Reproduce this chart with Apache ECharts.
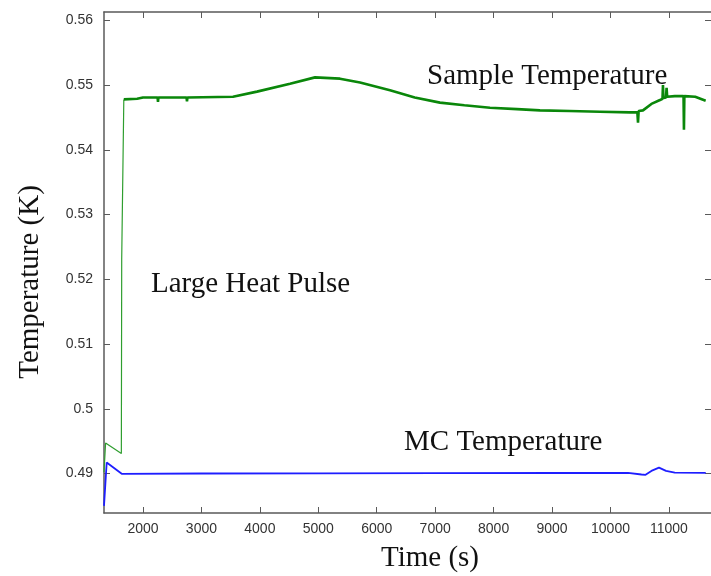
<!DOCTYPE html>
<html>
<head>
<meta charset="utf-8">
<script src="https://cdn.jsdelivr.net/npm/echarts@6/dist/echarts.min.js"></script>
<style>
  html, body { margin: 0; padding: 0; background: #fff; }
  #chart { width: 711px; height: 576px; }
</style>
</head>
<body>
<div id="chart"></div>
<script>
// Sample (green) temperature trace: time in s, temperature in K
const sampleTime = [1333, 1360, 1630, 1636, 1668, 1672, 1900, 2000, 2250, 2257, 2264, 2745, 2753, 2761,
  3540, 3951, 4516, 4944, 5371, 5714, 6227, 6650, 7082, 7500, 7938, 8400, 8794, 9300, 9820,
  10334, 10460, 10471, 10482, 10556, 10700, 10847, 10890, 10898, 10906, 10950, 10960, 10970,
  11100, 11250, 11257, 11264, 11450, 11629];
const sampleTemp = [0.4902, 0.4947, 0.4931, 0.5231, 0.5232, 0.5478, 0.5479, 0.5481, 0.5481, 0.5474, 0.5481, 0.5481, 0.5475, 0.5481,
  0.5482, 0.5490, 0.5502, 0.5512, 0.5510, 0.5504, 0.5492, 0.5481, 0.5473, 0.5469, 0.5465, 0.5463, 0.5461, 0.5460, 0.5459,
  0.5458, 0.5458, 0.5442, 0.5460, 0.5461, 0.5471, 0.5477, 0.5479, 0.5500, 0.5480, 0.5481, 0.5496, 0.5482,
  0.5483, 0.5483, 0.5431, 0.5483, 0.5482, 0.5476];
// index where the heat pulse ends and the plateau begins
const pulseEnd = 5;

// Mixing chamber (blue) temperature trace
const mcTime = [1333, 1340, 1379, 1636, 3000, 5000, 7000, 9000, 10300, 10530, 10600, 10700, 10830, 10950, 11100, 11630];
const mcTemp = [0.4850, 0.4853, 0.4917, 0.48995, 0.4900, 0.49003, 0.49005, 0.49008, 0.4901, 0.48985, 0.4898, 0.4904, 0.4909, 0.4904, 0.49015, 0.4901];

// Axis ranges and tick positions
const xRange = [1333, 11720];
const yRange = [0.4839, 0.5613];
const xTicks = [2000, 3000, 4000, 5000, 6000, 7000, 8000, 9000, 10000, 11000];
const yTicks = [0.49, 0.50, 0.51, 0.52, 0.53, 0.54, 0.55, 0.56];

const zip = (a, b) => a.map((v, i) => [v, b[i]]);
const sampleData = zip(sampleTime, sampleTemp);
const pulseData = sampleData.slice(0, pulseEnd + 1);
const plateauData = sampleData.slice(pulseEnd);

const axisColor = '#5a5a5a';
const labelColor = '#333';
const serif = '"Liberation Serif", "DejaVu Serif", serif';
const sans = '"Liberation Sans", Arial, sans-serif';

function fmtY(v) { return String(+v.toFixed(2)); }
function fmtX(v) { return String(Math.round(v)); }

function tickStyle(values) {
  return { show: true, inside: true, length: 6, customValues: values, lineStyle: { color: axisColor, width: 1 } };
}

const chart = echarts.init(document.getElementById('chart'), null, { renderer: 'canvas' });
chart.setOption({
  animation: false,
  backgroundColor: '#ffffff',
  grid: { left: 104, top: 12, right: 0, bottom: 63 },
  xAxis: [
    {
      type: 'value', position: 'bottom', min: xRange[0], max: xRange[1],
      axisLine: { show: true, lineStyle: { color: axisColor, width: 1.5 } },
      splitLine: { show: false },
      axisTick: tickStyle(xTicks),
      axisLabel: { show: true, customValues: xTicks, formatter: fmtX, margin: 9, color: labelColor, fontSize: 14, fontFamily: sans }
    },
    {
      type: 'value', position: 'top', min: xRange[0], max: xRange[1],
      axisLine: { show: true, lineStyle: { color: axisColor, width: 1.5 } },
      splitLine: { show: false },
      axisTick: tickStyle(xTicks),
      axisLabel: { show: false }
    }
  ],
  yAxis: [
    {
      type: 'value', position: 'left', min: yRange[0], max: yRange[1],
      axisLine: { show: true, lineStyle: { color: axisColor, width: 1.5 } },
      splitLine: { show: false },
      axisTick: tickStyle(yTicks),
      axisLabel: { show: true, customValues: yTicks, formatter: fmtY, margin: 11, color: labelColor, fontSize: 14, fontFamily: sans }
    },
    {
      type: 'value', position: 'right', min: yRange[0], max: yRange[1],
      axisLine: { show: false },
      splitLine: { show: false },
      axisTick: tickStyle(yTicks),
      axisLabel: { show: false }
    }
  ],
  series: [
    {
      name: 'MC Temperature', type: 'line', data: zip(mcTime, mcTemp),
      symbol: 'none', lineStyle: { color: '#1e1eff', width: 1.8 }, z: 2
    },
    {
      name: 'Sample Temperature', type: 'line', data: pulseData,
      symbol: 'none', lineStyle: { color: '#2f9e2f', width: 1.2 }, z: 3
    },
    {
      name: 'Sample Temperature', type: 'line', data: plateauData,
      symbol: 'none', lineStyle: { color: '#0a870a', width: 2.6 }, z: 3
    }
  ],
  graphic: [
    { type: 'text', left: 427, top: 62, style: { text: 'Sample Temperature', font: '29px ' + serif, fill: '#111' } },
    { type: 'text', left: 151, top: 270, style: { text: 'Large Heat Pulse', font: '29px ' + serif, fill: '#111' } },
    { type: 'text', left: 404, top: 428, style: { text: 'MC Temperature', font: '29px ' + serif, fill: '#111' } },
    { type: 'text', left: 381, top: 544, style: { text: 'Time (s)', font: '29px ' + serif, fill: '#111' } },
    { type: 'text', x: 30, y: 282, rotation: Math.PI / 2,
      style: { text: 'Temperature (K)', font: '29px ' + serif, fill: '#111', align: 'center', verticalAlign: 'middle' } }
  ]
});
</script>
</body>
</html>
